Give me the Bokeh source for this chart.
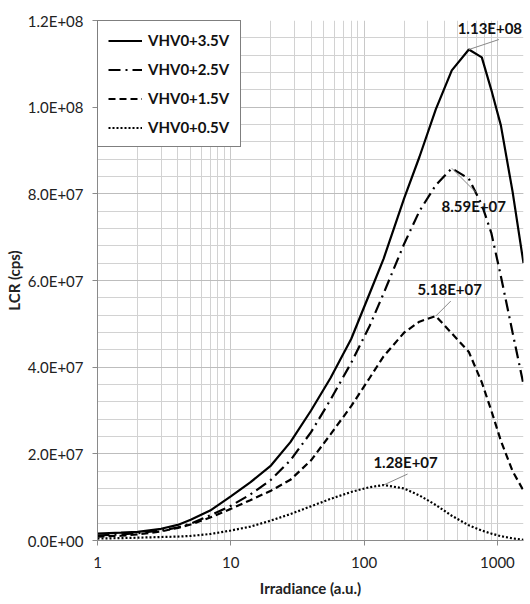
from bokeh.plotting import figure
from bokeh.models import FixedTicker, Label
from bokeh.embed import file_html
from bokeh.resources import INLINE
import math

# ---- data ----
irradiance = [1, 1.5, 2, 3, 4, 5, 7, 10, 14, 20, 28, 40, 56, 80, 110, 140,
              200, 260, 345, 455, 611, 764, 900, 1062, 1300, 1570]
lcr_35 = [1.6e6, 1.8e6, 2.0e6, 2.7e6, 3.6e6, 4.8e6, 6.9e6, 10.2e6, 13.4e6, 17.3e6,
          22.7e6, 30.0e6, 37.5e6, 46.5e6, 57.0e6, 65.0e6, 79.0e6, 88.5e6, 99.5e6,
          108.5e6, 113.3e6, 111.5e6, 104.0e6, 95.8e6, 80.5e6, 64.0e6]
lcr_25 = [1.15e6, 1.4e6, 1.7e6, 2.3e6, 3.0e6, 3.9e6, 5.8e6, 8.0e6, 10.6e6, 14.0e6,
          18.5e6, 25.0e6, 32.5e6, 41.0e6, 49.5e6, 57.0e6, 68.5e6, 76.0e6, 82.0e6,
          85.9e6, 83.5e6, 77.5e6, 71.0e6, 61.0e6, 48.0e6, 36.0e6]
lcr_15 = [0.9e6, 1.1e6, 1.4e6, 2.1e6, 2.9e6, 3.7e6, 5.3e6, 7.3e6, 9.3e6, 11.5e6,
          14.0e6, 18.5e6, 24.5e6, 31.0e6, 37.5e6, 42.5e6, 48.0e6, 50.5e6, 51.8e6,
          47.8e6, 43.5e6, 36.5e6, 30.0e6, 23.0e6, 16.0e6, 11.5e6]
lcr_05 = [0.45e6, 0.55e6, 0.65e6, 0.8e6, 0.9e6, 1.05e6, 1.5e6, 2.3e6, 3.2e6, 4.6e6,
          6.1e6, 7.9e6, 9.6e6, 11.2e6, 12.3e6, 12.8e6, 12.0e6, 10.4e6, 8.2e6,
          5.7e6, 3.5e6, 2.3e6, 1.6e6, 1.0e6, 0.5e6, 0.15e6]
series_names = ["VHV0+3.5V", "VHV0+2.5V", "VHV0+1.5V", "VHV0+0.5V"]

x_ticks = [1, 10, 100, 1000]
x_tick_labels = ["1", "10", "100", "1000"]
y_ticks = [0, 2e7, 4e7, 6e7, 8e7, 1.0e8, 1.2e8]
y_tick_labels = ["0.0E+00", "2.0E+07", "4.0E+07", "6.0E+07", "8.0E+07", "1.0E+08", "1.2E+08"]

# ---- layout / style ----
FONT = "Lato"
FW, FH = 426, 520
X_END = 1570
Y_END = 1.2e8

p = figure(frame_width=FW, frame_height=FH, x_axis_type="log",
           x_range=(1, X_END), y_range=(0, Y_END),
           output_backend="svg", toolbar_location=None,
           min_border_left=97, min_border_right=7, min_border_top=20, min_border_bottom=62)
p.outline_line_color = None
p.background_fill_color = "white"

x_minor = [m * d for d in [1, 10, 100, 1000] for m in range(2, 10) if m * d < X_END]
y_minor = [i * 4e6 for i in range(0, 31)]
p.xaxis.ticker = FixedTicker(ticks=x_ticks, minor_ticks=x_minor)
p.yaxis.ticker = FixedTicker(ticks=y_ticks, minor_ticks=y_minor)
p.xaxis.major_label_overrides = dict(zip(x_ticks, x_tick_labels))
p.yaxis.major_label_overrides = dict(zip(y_ticks, y_tick_labels))

p.xgrid.grid_line_color = "#c8c8c8"
p.xgrid.minor_grid_line_color = "#d2d2d2"
p.ygrid.grid_line_color = "#bdbdbd"
p.ygrid.minor_grid_line_color = "#d2d2d2"
for g in (p.xgrid, p.ygrid):
    g.grid_line_width = 1
    g.minor_grid_line_width = 1

for ax in (p.xaxis, p.yaxis):
    ax.axis_line_color = "#8a8a8a"
    ax.major_tick_line_color = "#8a8a8a"
    ax.major_tick_out = 5
    ax.major_tick_in = 0
    ax.minor_tick_out = 0
    ax.minor_tick_in = 0
    ax.major_label_text_font = FONT
    ax.major_label_text_font_size = "15px"
    ax.major_label_text_color = "#222222"
    ax.axis_label_text_font = FONT
    ax.axis_label_text_font_size = "15px"
    ax.axis_label_text_font_style = "bold"
    ax.axis_label_text_color = "#222222"

p.xaxis.axis_label = "Irradiance (a.u.)"
p.yaxis.axis_label = "LCR (cps)"
p.xaxis.major_label_standoff = 11
p.yaxis.major_label_standoff = 9
p.xaxis.axis_label_standoff = 8
p.yaxis.axis_label_standoff = 2

styles = [dict(line_dash="solid", line_width=2.2),
          dict(line_dash="12 5 2 5", line_width=2.2),
          dict(line_dash="7 4", line_width=2.2),
          dict(line_dash="2 2", line_width=2.2)]
all_series = [lcr_35, lcr_25, lcr_15, lcr_05]
for ys, name, st in zip(all_series, series_names, styles):
    p.line(irradiance, ys, line_color="black", legend_label=name, **st)

lg = p.legend[0]
lg.location = (0, 393)
lg.margin = 0
lg.padding = 10
lg.spacing = 11
lg.label_height = 17
lg.glyph_height = 17
lg.glyph_width = 34
lg.label_standoff = 6
lg.label_width = 82
lg.border_line_color = "black"
lg.border_line_width = 1.5
lg.background_fill_color = "white"
lg.background_fill_alpha = 1
lg.label_text_font = FONT
lg.label_text_font_size = "15px"
lg.label_text_font_style = "bold"
lg.label_text_color = "#111111"

# ---- peak annotations ----
ppd = FW / math.log10(X_END)      # pixels per decade
upp = Y_END / FH                  # value per pixel
# (leader dx, leader dy up, text dx, text dy up) in pixels
ann_style = [(30, 10, 21, 22), (24, -24, 22, -38), (15, 15, 14, 27), (24, 11, 22, 23)]
lx0, ly0, lx1, ly1 = [], [], [], []
for ys, (ldx, ldy, tdx, tdy) in zip(all_series, ann_style):
    i = max(range(len(ys)), key=lambda k: ys[k])
    px, py = irradiance[i], ys[i]
    lx0.append(px); ly0.append(py)
    lx1.append(px * 10 ** (ldx / ppd)); ly1.append(py + ldy * upp)
    p.add_layout(Label(x=px, y=py, x_offset=tdx, y_offset=tdy, text="%.2E" % py,
                       text_align="center", text_baseline="middle",
                       text_font=FONT, text_font_size="15px", text_font_style="bold",
                       text_color="#111111"))
p.segment(lx0, ly0, lx1, ly1, line_color="#888888", line_width=1)

open("out.html", "w").write(file_html(p, INLINE))
